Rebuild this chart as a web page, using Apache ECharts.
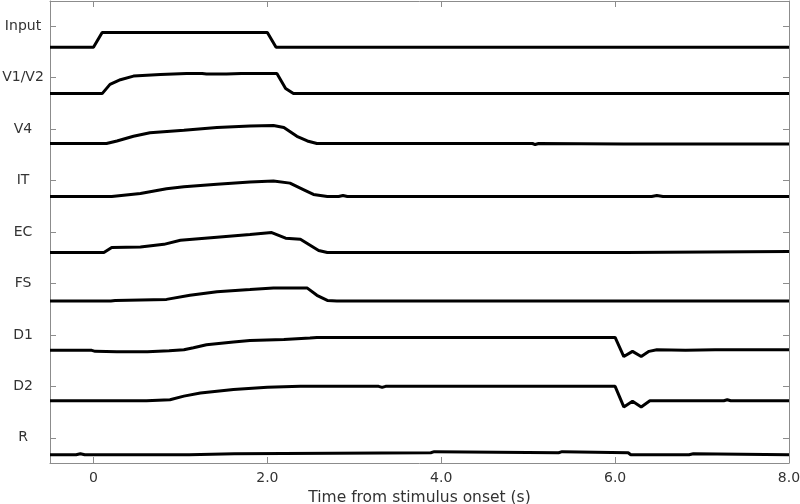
<!DOCTYPE html>
<html lang="en">
<head>
    <meta charset="UTF-8">
    <title>Stimulus response traces</title>
    <script src="https://cdn.jsdelivr.net/npm/echarts@6/dist/echarts.min.js"></script>
    <style>
        html, body { margin: 0; padding: 0; background: #fff; }
        #main { width: 800px; height: 504px; }
    </style>
</head>
<body>
<div id="main"></div>
<script type="text/javascript">
    // row labels, top to bottom
    var rowNames = ['Input', 'V1/V2', 'V4', 'IT', 'EC', 'FS', 'D1', 'D2', 'R'];
    var xTicks = [0, 2, 4, 6, 8];

    // time (s) and level relative to each row's tick (in row spacings)
    var inputT = [-0.5, 0, 0.1, 2.0, 2.1, 8];
    var inputV = [-0.41, -0.41, -0.12, -0.12, -0.41, -0.41];

    var v12T = [-0.5, 0.10, 0.19, 0.31, 0.46, 0.77, 1.07, 1.25, 1.30, 1.53, 1.70, 2.11, 2.21, 2.30, 8];
    var v12V = [-0.31, -0.31, -0.13, -0.04, 0.03, 0.06, 0.08, 0.08, 0.07, 0.07, 0.08, 0.08, -0.21, -0.31, -0.31];

    var v4T = [-0.5, 0.15, 0.27, 0.46, 0.65, 1.04, 1.42, 1.80, 2.07, 2.19, 2.34, 2.46, 2.57, 5.05, 5.08, 5.12, 6.10, 8];
    var v4V = [-0.28, -0.28, -0.23, -0.14, -0.07, -0.02, 0.03, 0.06, 0.07, 0.03, -0.14, -0.23, -0.28, -0.28, -0.30, -0.28, -0.29, -0.29];

    var itT = [-0.5, 0.21, 0.54, 0.84, 1.04, 1.42, 1.80, 2.07, 2.26, 2.42, 2.53, 2.69, 2.82, 2.87, 2.92, 6.42, 6.48, 6.55, 8];
    var itV = [-0.31, -0.31, -0.25, -0.16, -0.12, -0.07, -0.03, -0.01, -0.05, -0.18, -0.27, -0.31, -0.31, -0.29, -0.31, -0.31, -0.29, -0.31, -0.31];

    var ecT = [-0.5, 0.12, 0.21, 0.54, 0.81, 1.00, 1.42, 1.80, 2.05, 2.21, 2.38, 2.59, 2.69, 6.12, 6.14, 8];
    var ecV = [-0.40, -0.40, -0.30, -0.29, -0.24, -0.16, -0.10, -0.05, -0.01, -0.12, -0.14, -0.36, -0.40, -0.40, -0.38, -0.38];

    var fsT = [-0.5, 0.20, 0.25, 0.84, 1.11, 1.42, 1.80, 2.07, 2.46, 2.57, 2.69, 2.80, 8];
    var fsV = [-0.34, -0.34, -0.33, -0.31, -0.23, -0.16, -0.12, -0.09, -0.09, -0.23, -0.33, -0.34, -0.34];

    var d1T = [-0.5, -0.02, 0.02, 0.27, 0.62, 0.87, 1.04, 1.15, 1.30, 1.61, 1.80, 2.19, 2.49, 2.57, 6.0, 6.10, 6.20, 6.30, 6.39, 6.48, 6.81, 7.15, 8];
    var d1V = [-0.30, -0.30, -0.32, -0.33, -0.33, -0.31, -0.29, -0.25, -0.19, -0.14, -0.11, -0.09, -0.06, -0.05, -0.05, -0.42, -0.32, -0.42, -0.32, -0.29, -0.30, -0.29, -0.29];

    var d2T = [-0.5, 0.61, 0.88, 1.04, 1.23, 1.61, 2.0, 2.38, 3.28, 3.32, 3.36, 6.0, 6.10, 6.20, 6.30, 6.40, 7.25, 7.29, 7.33, 8];
    var d2V = [-0.28, -0.28, -0.26, -0.19, -0.13, -0.06, -0.02, 0.0, 0.0, -0.02, 0.0, 0.0, -0.40, -0.29, -0.40, -0.28, -0.28, -0.26, -0.28, -0.28];

    var rT = [-0.5, -0.2, -0.15, -0.1, 1.10, 1.12, 1.62, 1.64, 3.88, 3.92, 5.35, 5.39, 6.15, 6.18, 6.85, 6.90, 8];
    var rV = [-0.33, -0.33, -0.31, -0.33, -0.33, -0.31, -0.31, -0.29, -0.29, -0.27, -0.29, -0.27, -0.29, -0.33, -0.33, -0.31, -0.33];

    var traces = [
        [inputT, inputV], [v12T, v12V], [v4T, v4V], [itT, itV], [ecT, ecV],
        [fsT, fsV], [d1T, d1V], [d2T, d2V], [rT, rV]
    ];
    var rowTicks = [0, 1, 2, 3, 4, 5, 6, 7, 8];

    var axisGrey = '#8c8c8c';
    var font = 'DejaVu Sans';

    var series = traces.map(function (tr, i) {
        var row = rowNames.length - 1 - i;
        return {
            name: rowNames[i],
            type: 'line',
            showSymbol: false,
            symbol: 'none',
            lineStyle: { color: '#000', width: 3 },
            data: tr[0].map(function (t, k) { return [t, row + tr[1][k]]; })
        };
    });

    var myChart = echarts.init(document.getElementById('main'));
    var option = {
        animation: false,
        grid: { left: 50, right: 11, top: 1, bottom: 41, outerBoundsMode: 'none', containLabel: false },
        xAxis: [{
            type: 'value',
            min: -0.5,
            max: 8,
            name: 'Time from stimulus onset (s)',
            nameLocation: 'middle',
            nameGap: 24,
            nameTextStyle: { fontFamily: font, fontSize: 15.5, color: '#333' },
            axisLine: { show: true, onZero: false, lineStyle: { color: axisGrey } },
            axisTick: { show: true, inside: true, length: 6, customValues: xTicks, lineStyle: { color: axisGrey } },
            axisLabel: {
                customValues: xTicks,
                fontFamily: font, fontSize: 14, color: '#333', margin: 8,
                formatter: function (v) { return v === 0 ? '0' : v.toFixed(1); }
            },
            splitLine: { show: false }
        }, {
            type: 'value',
            position: 'top',
            min: -0.5,
            max: 8,
            axisLine: { show: true, onZero: false, lineStyle: { color: axisGrey } },
            axisTick: { show: true, inside: true, length: 6, customValues: xTicks, lineStyle: { color: axisGrey } },
            axisLabel: { show: false },
            splitLine: { show: false }
        }],
        yAxis: [{
            type: 'value',
            min: -0.49,
            max: 8.49,
            axisLine: { show: true, onZero: false, lineStyle: { color: axisGrey } },
            axisTick: { show: true, inside: true, length: 6, customValues: rowTicks, lineStyle: { color: axisGrey } },
            axisLabel: {
                customValues: rowTicks,
                fontFamily: font, fontSize: 14, color: '#333', margin: 27, align: 'center',
                formatter: function (v) { return rowNames[rowNames.length - 1 - Math.round(v)]; }
            },
            splitLine: { show: false }
        }, {
            type: 'value',
            position: 'right',
            min: -0.49,
            max: 8.49,
            axisLine: { show: true, onZero: false, lineStyle: { color: axisGrey } },
            axisTick: { show: true, inside: true, length: 6, customValues: rowTicks, lineStyle: { color: axisGrey } },
            axisLabel: { show: false },
            splitLine: { show: false }
        }],
        series: series
    };
    option && myChart.setOption(option);
</script>
</body>
</html>
